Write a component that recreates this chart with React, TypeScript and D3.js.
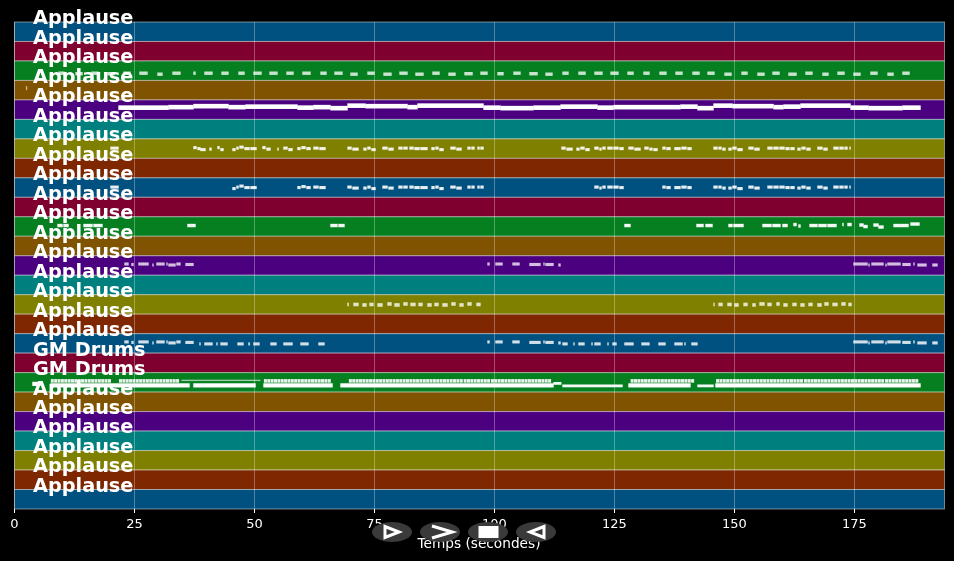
import React from "react";
import * as d3 from "d3";

type Note = [number, number, number];

const trackNames = [
  "Applause","Applause","Applause","Applause","Applause","Applause","Applause","Applause","Applause",
  "Applause","Applause","Applause","Applause","Applause","Applause","Applause","Applause",
  "GM Drums","GM Drums",
  "Applause","Applause","Applause","Applause","Applause","Applause",
];
const trackColors = ["#00517f","#7f002f","#067f20","#7f5300","#4b007f","#007f7f","#7f7f00","#7f2700"];
const xTicks = [0, 25, 50, 75, 100, 125, 150, 175];
const xLabel = "Temps (secondes)";

const bassDashes: Note[] = [
  [9.17,10.42,-5],[12.71,14.17,-6],[16.04,17.5,-5],[19.38,20.83,-6],[22.71,24.17,-5],[26.04,27.71,-5],[29.79,30.83,-7],[32.92,34.58,-5],[37.29,37.71,-5],
  [39.58,41.25,-5],[43.13,44.58,-5],[46.67,47.92,-5],[49.79,51.46,-5],[53.13,54.79,-5],[56.67,58.13,-5],[60,61.67,-5],[63.75,65,-5],[66.67,68.33,-5],
  [70,71.46,-7],[73.54,75,-5],[76.88,78.54,-7],[80.21,81.88,-5],[83.54,85.21,-7],[87.08,88.54,-5],[90.42,91.88,-7],[93.75,95.42,-6],[97.08,98.54,-5],
  [100.63,101.88,-6],[103.96,105.42,-5],[107.29,108.96,-6],[110.63,112.08,-7],[114.17,115.42,-5],[117.5,118.96,-5],[120.83,122.5,-5],[124.17,125.83,-5],[127.71,128.96,-5],
  [131.04,132.29,-5],[134.38,135.83,-5],[137.71,139.17,-5],[141.25,142.71,-5],[144.38,145.83,-5],[147.92,149.38,-7],[151.46,152.71,-5],[154.79,156.25,-7],[157.92,159.38,-5],
  [161.25,162.92,-7],[164.79,166.25,-5],[168.33,169.58,-7],[171.46,172.92,-5],[174.79,176.25,-7],[178.33,179.79,-5],[181.88,183.13,-7],[185,186.46,-5],
];
const strayNote: Note[] = [[2.42,2.6,4]];
const padLine: Note[] = [
  [21.67,32.08,4],[32.08,37.29,5],[37.29,44.58,7],[44.58,48.13,5],[48.13,58.96,6],[58.96,62.29,4],[62.29,65.83,5],[65.83,69.38,3],[69.38,73.13,8],
  [73.13,81.88,7],[81.88,83.96,5],[83.96,97.71,8],[97.71,101.25,4],[101.25,108.13,3],[108.13,113.75,4],[113.75,121.46,6],[121.46,124.79,4],[124.79,138.75,5],
  [138.75,142.29,6],[142.29,145.63,3],[145.63,149.58,8],[149.58,158.13,7],[158.13,160.21,5],[160.21,163.75,6],[163.75,174.17,8],[174.17,177.92,4],[177.92,185,3],[185,188.75,4],
];
const pickupNote: Note[] = [[20,21.67,1]];
const riffEarly: Note[] = [
  [37.29,37.92,2],[38.13,38.75,0],[38.75,39.79,-2],[40.63,41.04,-1],[42.29,42.71,2],[42.92,43.54,-2],
];
const riffMid: Note[] = [
  [45.42,46.04,-2],[46.25,46.67,1],[46.88,47.71,3],[47.92,48.96,0],[49.17,50.42,0],
];
const riffMidB: Note[] = [
  [51.67,52.29,2],[52.5,53.33,-1],[54.79,55,-1],[56.04,56.88,1],[57.08,57.92,-2],
];
const riffTail: Note[] = [
  [58.96,59.58,0],[59.79,60.63,2],[60.83,61.67,0],[62.29,63.33,1],[63.54,64.79,0],
];
const phraseA: Note[] = [
  [69.38,70.21,1],[70.42,71.67,-1],[72.71,73.33,-1],[73.54,74.17,1],[74.38,75.21,-2],[76.67,77.71,1],[77.92,78.96,-1],[80,80.83,1],[81.04,81.88,1],
  [82.29,83.13,1],[83.33,84.38,0],[84.58,86.04,0],[86.88,87.5,0],[87.71,88.33,1],[88.54,89.38,-2],[90.83,91.88,1],[92.08,93.13,-1],[94.38,95,1],[95.21,95.83,1],[96.46,96.88,1],[97.08,97.71,1],
];
const riffReturn: Note[] = [
  [113.96,114.79,1],[115,116.25,-1],[117.08,117.71,-1],[117.92,118.75,1],[118.96,119.79,-2],
];
const riffReturnB: Note[] = [
  [120.83,121.67,1],[121.88,122.29,-1],[122.5,123.13,1],[123.54,124.58,1],[124.79,125.83,1],[126.04,126.88,0],
];
const riffReturnC: Note[] = [
  [127.92,128.96,1],[129.17,130.42,-1],[131.25,132.08,1],[132.29,132.92,-1],[133.13,133.96,-2],
];
const riffReturnD: Note[] = [
  [135,135.63,1],[135.83,136.67,0],[137.5,138.75,0],[138.96,140,1],[140.21,141.04,0],
];
const phraseB: Note[] = [
  [145.63,146.46,1],[146.67,147.29,1],[147.5,148.13,-1],[148.75,149.38,-1],[149.58,150.42,1],[150.63,151.67,-2],[152.92,153.96,1],[154.17,155.21,-1],
  [156.88,157.92,1],[158.13,159.17,1],[159.38,160.42,1],[160.63,161.46,0],[161.67,162.5,0],[163.13,163.75,-1],[163.96,164.79,1],[165,165.83,-1],
  [167.29,168.33,1],[168.54,169.38,-1],[170.63,171.67,1],[171.88,172.71,1],[172.92,173.54,1],[173.96,174.17,1],
];
const leadStabs: Note[] = [
  [8.96,10,2],[10.21,11.25,2],[14.38,16.25,2],[16.46,18.33,2],[36.04,36.88,2],[36.88,37.71,2],[65.83,67.29,2],[67.5,68.75,2],[127.08,128.33,2],
  [142.08,143.54,2],[143.96,145.42,2],[148.75,149.58,2],[149.79,151.88,2],[155.83,157.71,2],[157.92,159.58,2],[160,161.04,2],[162.29,162.92,4],[163.33,163.75,1],
  [165.63,167.29,2],[167.5,169.17,2],[169.38,171.25,2],[172.5,172.71,4],[173.54,174.38,4],[176.04,176.88,3],[176.88,177.71,0],[178.96,180,3],[180,181.04,-1],
  [183.13,184.58,2],[184.58,186.25,2],[186.67,188.54,5],
];
const phraseC: Note[] = [
  [22.92,23.75,3],[24.38,24.79,2],[25.83,26.88,3],[26.88,27.92,3],[28.75,28.96,1],[29.58,31.25,3],[31.67,31.88,3],[32.08,33.54,1],[33.75,34.58,3],[35.63,37.29,2],
];
const phraseD: Note[] = [
  [98.54,98.96,3],[100.21,101.67,3],[103.75,105.21,3],[107.29,109.58,2],[110.21,110.42,3],[110.63,112.29,2],[113.33,113.75,1],
];
const phraseE: Note[] = [
  [174.79,177.71,3],[177.92,178.13,1],[178.54,181.04,3],[181.46,181.67,1],[181.88,184.58,3],[185,186.67,2],[187.29,187.5,3],[188.13,190,1],[191.25,192.29,1],
];
const chordHits: Note[] = [
  [69.38,69.63,0],[70.63,71.67,0],[72.5,73.33,-1],[73.96,74.79,0],[75.63,76.67,-1],[77.71,78.54,1],[79.17,80.21,-1],[81.04,81.88,1],[82.5,83.54,0],[84.17,85,0],[86.04,86.88,-1],[87.5,88.33,0],[89.17,90.21,-1],[91.04,91.88,1],[92.71,93.54,-1],[94.38,95.21,1],[96.25,97.08,0],
  [145.63,145.83,0],[146.67,147.5,0],[148.54,149.38,0],[150,150.83,-1],[151.88,152.71,0],[153.75,154.38,-1],[155.21,156.25,1],[156.88,157.71,0],[158.75,159.38,1],[160.21,161.04,-1],[162.08,162.92,0],[163.75,164.58,-1],[165.42,166.25,0],[167.29,168.13,-1],[168.75,169.58,1],[170.42,171.46,0],[172.29,173.13,1],[173.75,174.38,0],
];
const bassFillA: Note[] = [
  [38.54,38.75,-1],[39.58,41.25,-1],[42.08,42.29,-1],[42.92,44.38,-1],[46.46,47.71,-1],[48.75,49,-1],[49.79,51.04,-1],[53.33,54.58,-1],[56.04,57.92,-1],[59.58,61.25,-1],[63.33,64.58,-1],
];
const bassFillB: Note[] = [
  [114.17,115.21,-1],[116.46,116.67,-1],[117.5,118.75,-1],[120.21,120.42,-1],[120.83,122.08,-1],[123.54,123.75,-1],[124.58,125.42,-1],[127.08,128.96,-1],[130.63,132.29,-1],[134.17,135.63,-1],[137.5,139.17,-1],[139.58,139.79,-1],[141.04,142.29,-1],
];
const drumLower: Note[] = [
  [3.75,5.42,-3],[7.5,36.46,-6],[37.29,50.21,-6],[51.88,66.25,-6],[67.92,112.29,-6],[127.92,140.83,-6],[146.04,188.75,-6],
];
const drumLowerThin: Note[] = [
  [114.17,126.67,-7],[142.29,145.63,-7],[112.3,113.9,-2],
];
const drumWire: Note[] = [[34.8,51.2,4]];
const hatStarts: number[] = [
  7.6,8.3,9,9.7,10.4,11.1,11.8,12.5,13.2,13.9,14.6,15.3,16,16.7,17.4,18.1,18.8,19.5,
  21.8,22.5,23.2,23.9,24.6,25.3,26,26.7,27.4,28.1,28.8,29.5,30.2,30.9,31.6,32.3,33,33.7,
  52,52.7,53.4,54.1,54.8,55.5,56.2,56.9,57.6,58.3,59,59.7,60.4,61.1,61.8,62.5,63.2,63.9,64.6,65.3,
  69.7,70.4,71.1,71.8,72.5,73.2,73.9,74.6,75.3,76,76.7,77.4,78.1,78.8,79.5,80.2,80.9,81.6,82.3,83,83.7,84.4,85.1,85.8,86.5,87.2,87.9,88.6,89.3,90,90.7,91.4,92.1,92.8,
  93.6,94.3,95,95.7,96.4,97.1,97.8,98.5,99.3,100,100.7,101.4,102.1,102.8,103.5,104.2,104.9,105.6,106.3,107,107.7,108.4,109.1,109.8,110.5,111.2,
  128.4,129.1,129.8,130.5,131.2,131.9,132.6,133.3,134,134.7,135.4,136.1,136.8,137.5,138.2,138.9,139.6,140.3,141,
  146.2,146.9,147.6,148.3,149,149.7,150.4,151.1,151.8,152.5,153.2,153.9,154.6,155.3,156,156.7,157.4,158.1,158.8,159.5,160.2,160.9,161.6,162.3,163,163.7,
  164.5,165.2,165.9,166.6,167.3,168,168.7,169.4,170.1,170.8,171.5,172.2,172.9,173.6,174.3,175,175.7,176.4,177.1,177.8,178.5,179.2,179.9,180.6,
  181.4,182.1,182.8,183.5,184.2,184.9,185.6,186.3,187,187.7,
];

const W = 954;
const H = 561;
const hatLength = 0.55;
const hatPitch = 3;

const x = d3.scaleLinear().domain([0, 193.75]).range([14.5, 944.5]);
const y = d3.scaleBand<number>().domain(d3.range(trackNames.length)).range([22, 509]);
const pitchPx = d3.scaleLinear().domain([-10, 10]).range([5, -5]);

const rowNotes = (row: number, p: number) => y(row)! + y.bandwidth() / 2 + pitchPx(p);

const hatNotes: Note[] = hatStarts.map((s) => [s, s + hatLength, hatPitch]);

const layers: { row: number; notes: Note[]; h: number; o: number }[] = [
  { row: 2, notes: bassDashes, h: 3.4, o: 0.78 },
  { row: 3, notes: strayNote, h: 4, o: 0.6 },
  { row: 4, notes: padLine, h: 4.6, o: 1 },
  { row: 6, notes: [...pickupNote, ...riffEarly, ...riffMid, ...riffMidB, ...riffTail, ...phraseA, ...riffReturn, ...riffReturnB, ...riffReturnC, ...riffReturnD, ...phraseB], h: 3.1, o: 0.9 },
  { row: 8, notes: [...pickupNote, ...riffMid, ...riffTail, ...phraseA, ...riffReturnB, ...riffReturnD, ...phraseB], h: 3.1, o: 0.9 },
  { row: 10, notes: leadStabs, h: 3.4, o: 0.95 },
  { row: 12, notes: [...phraseC, ...phraseD, ...phraseE], h: 3.1, o: 0.75 },
  { row: 14, notes: chordHits, h: 3.6, o: 0.78 },
  { row: 16, notes: [...phraseC, ...bassFillA, ...phraseD, ...bassFillB, ...phraseE], h: 3.1, o: 0.82 },
  { row: 18, notes: hatNotes, h: 3.6, o: 0.9 },
  { row: 18, notes: drumWire, h: 1.4, o: 0.6 },
  { row: 18, notes: drumLower, h: 4.2, o: 1 },
  { row: 18, notes: drumLowerThin, h: 2.8, o: 0.95 },
];

const buttons = [392, 440, 488, 536];
const btnY = 532;
const glyphStyle = { fill: "none", stroke: "#fff", strokeWidth: 3 };

export default function App() {
  return (
    <div style={{ position: "absolute", left: 0, top: 0, width: W, height: H, background: "#000" }}>
      <svg width={W} height={H} style={{ display: "block", fontFamily: "'DejaVu Sans'", filter: "blur(0.35px)" }}>
        <rect width={W} height={H} fill="#000" />
        {trackNames.map((_, i) => (
          <rect key={i} x={14.5} y={y(i)} width={930} height={y.bandwidth()}
            fill={trackColors[i % trackColors.length]} stroke="#fff" strokeOpacity={0.45} strokeWidth={1} />
        ))}
        {xTicks.map((t) => (
          <g key={t}>
            <line x1={x(t)} x2={x(t)} y1={22} y2={509} stroke="#fff" strokeOpacity={0.3} strokeWidth={1} />
            <line x1={x(t)} x2={x(t)} y1={509} y2={513} stroke="#fff" strokeWidth={1} />
            <text x={x(t)} y={528} textAnchor="middle" fill="#fff" fontSize={13}>{t}</text>
          </g>
        ))}
        {layers.map((l, li) => (
          <g key={li} fill="#fff" fillOpacity={l.o}>
            {l.notes.map((n, i) => (
              <rect key={i} x={x(n[0]) - 0.2} width={Math.max(x(n[1]) - x(n[0]) + 0.4, 1)}
                y={rowNotes(l.row, n[2]) - l.h / 2} height={l.h} />
            ))}
          </g>
        ))}
        {trackNames.map((name, i) => (
          <text key={i} x={33} y={y(i)! + 2.4} fill="#fff" fontSize={19.3} fontWeight="bold">{name}</text>
        ))}
        <text x={479} y={548} textAnchor="middle" fill="#fff" fontSize={13.7}>{xLabel}</text>
        {buttons.map((cx) => (
          <ellipse key={cx} cx={cx} cy={btnY} rx={20} ry={10} fill="#3a3a3a" />
        ))}
        <path d="M385 526.5 L399 532 L385 537.5 Z" {...glyphStyle} />
        <path d="M432 526 L452 532 L432 538" {...glyphStyle} strokeWidth={3.2} />
        <rect x={478.5} y={526} width={20} height={12} fill="#fff" />
        <path d="M544 526.5 L530 532 L544 537.5 Z" {...glyphStyle} />
      </svg>
    </div>
  );
}
